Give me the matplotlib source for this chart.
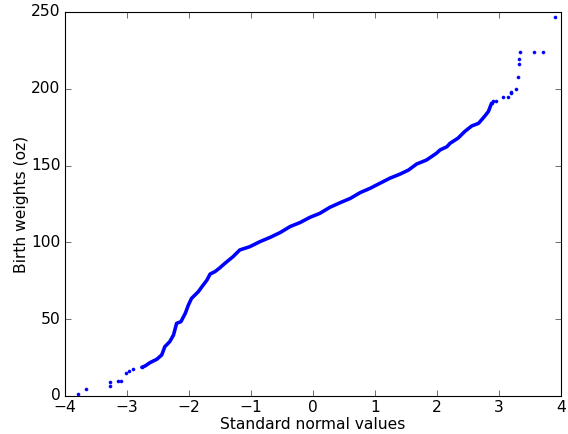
"""Normal probability plot of birth weights."""

import matplotlib
matplotlib.use("Agg")
import matplotlib.pyplot as plt

# sparse points in the lower tail
low_x = [-3.79, -3.66, -3.27, -3.27, -3.14, -3.09, -3.01, -2.96, -2.90, -2.76]
low_y = [1.0, 4.8, 6.5, 9.3, 9.8, 9.8, 15.2, 16.5, 17.6, 18.7]

# dense middle part, traced along the band of points
mid_x = [-2.76, -2.71, -2.63, -2.52, -2.44, -2.39, -2.31, -2.25, -2.20, -2.13,
         -2.06, -2.01, -1.96, -1.85, -1.77, -1.71, -1.66, -1.58, -1.51, -1.42,
         -1.29, -1.18, -1.02, -0.855, -0.69, -0.53, -0.37, -0.21, -0.05, 0.11,
         0.27, 0.44, 0.60, 0.76, 0.92, 1.08, 1.24, 1.40, 1.54, 1.67,
         1.83, 1.99, 2.05, 2.16, 2.21, 2.34, 2.45, 2.56, 2.67, 2.77,
         2.83, 2.88]
mid_y = [18.7, 19.5, 21.7, 23.9, 26.7, 32.1, 35.4, 39.7, 47.3, 48.4,
         53.8, 59.2, 63.5, 67.9, 72.3, 75.5, 79.4, 81.0, 83.2, 86.4,
         90.7, 95.1, 97.2, 100.5, 103.3, 106.4, 110.3, 112.9, 116.3, 118.9,
         122.8, 125.9, 128.6, 132.4, 135.2, 138.5, 141.8, 144.4, 147.1, 151.0,
         153.6, 158.0, 160.2, 162.3, 164.5, 167.9, 172.3, 175.8, 177.5, 182.2,
         185.3, 190.6]

# sparse points in the upper tail
high_x = [2.88, 2.91, 2.95, 3.07, 3.15, 3.19, 3.20, 3.27, 3.31, 3.33,
          3.33, 3.34, 3.57, 3.71, 3.90]
high_y = [190.6, 192.0, 192.0, 194.5, 194.5, 197.3, 197.7, 199.7, 207.4, 215.9,
          219.7, 223.7, 223.7, 223.7, 246.8]


def main():
    plt.style.use("classic")
    fig = plt.figure(figsize=(7.1, 5.425), dpi=80, facecolor="white")
    ax = fig.add_axes([65 / 568, 38 / 434, 496 / 568, 384 / 434])

    ax.plot(mid_x, mid_y, color="blue", linewidth=3.2, solid_capstyle="round")
    ax.plot(low_x + high_x, low_y + high_y, "b.", markersize=5.5,
            markeredgewidth=0.5)

    ax.set_xlim(-4, 4)
    ax.set_ylim(0, 250)
    ax.set_xlabel("Standard normal values", fontsize=14, labelpad=1)
    ax.set_ylabel("Birth weights (oz)", fontsize=14, labelpad=2)
    ax.tick_params(labelsize=14, length=5)

    fig.savefig("out.png", dpi=80, facecolor="white")


if __name__ == "__main__":
    main()
